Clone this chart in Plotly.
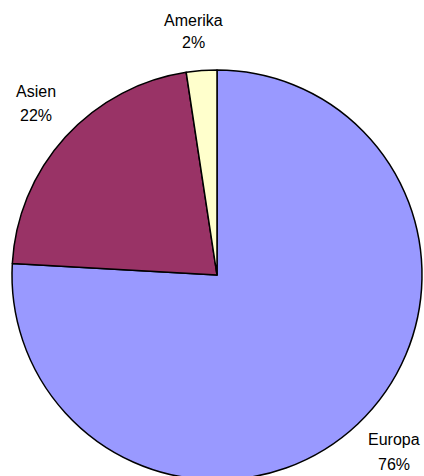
import plotly.graph_objects as go

# Data
regions = ["Europa", "Asien", "Amerika"]
shares = [75.9, 21.7, 2.4]
pct_labels = ["76%", "22%", "2%"]
colors = ["#9999FF", "#993366", "#FFFFCC"]

W, H = 424, 490

def py(px):
    return 1 - px / H

def pxx(px):
    return px / W

fig = go.Figure(go.Pie(
    labels=regions,
    values=shares,
    sort=False,
    direction="clockwise",
    rotation=0,
    textinfo="none",
    hoverinfo="label+percent",
    marker=dict(colors=colors, line=dict(color="black", width=1.5)),
    domain=dict(x=[pxx(12), pxx(422)], y=[py(480), py(70)]),
    showlegend=False,
))

# label positions (pixel centres) for each region: (x, y line1, y line2)
label_pos = {"Europa": (394, 439, 464), "Asien": (36, 91, 116), "Amerika": (193, 21, 43)}
font = dict(family="Liberation Sans, Arial, sans-serif", size=16, color="black")
for name, pct in zip(regions, pct_labels):
    x, y1, y2 = label_pos[name]
    fig.add_annotation(x=pxx(x), y=py(y1), xref="paper", yref="paper", text=name,
                       showarrow=False, xanchor="center", yanchor="middle", font=font)
    fig.add_annotation(x=pxx(x), y=py(y2), xref="paper", yref="paper", text=pct,
                       showarrow=False, xanchor="center", yanchor="middle", font=font)

fig.update_layout(
    width=W, height=H,
    margin=dict(l=0, r=0, t=0, b=0),
    paper_bgcolor="white",
    plot_bgcolor="white",
)

fig.write_html("out.html", config={"displayModeBar": False},
               post_script="document.body.style.overflow='hidden';document.documentElement.style.overflow='hidden';document.body.style.margin='0';")
